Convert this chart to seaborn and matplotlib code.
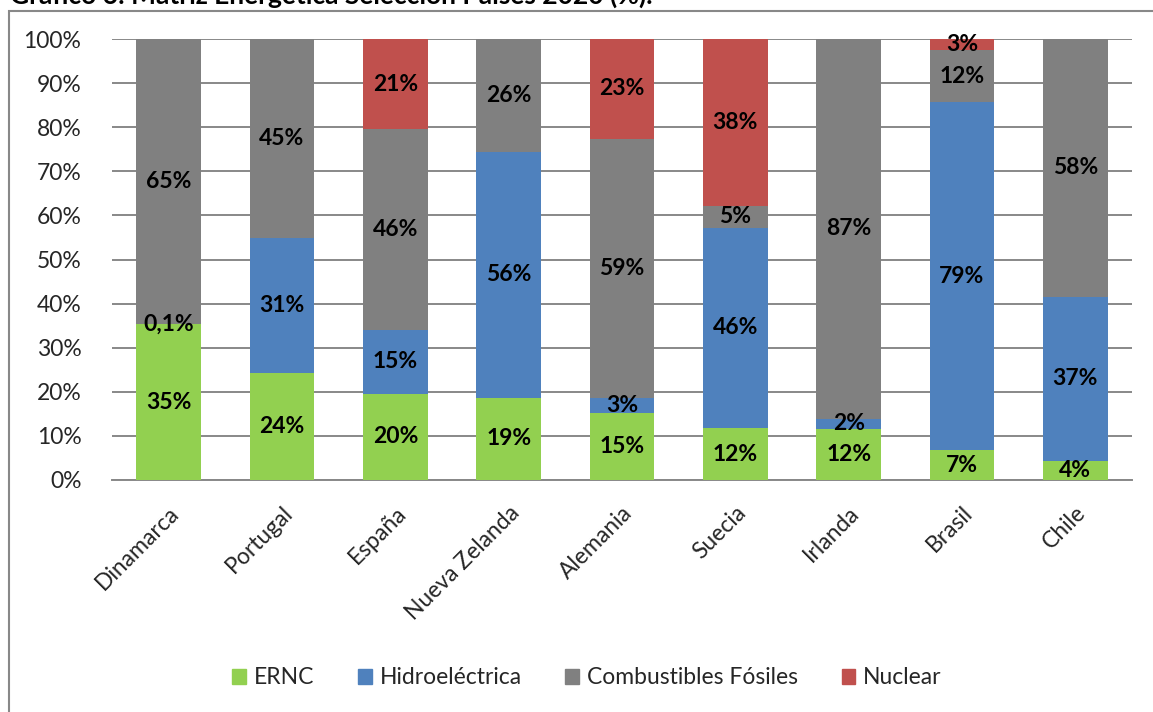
import numpy as np
import pandas as pd
import matplotlib
matplotlib.use("Agg")
import matplotlib.pyplot as plt
import matplotlib.patches as mpatches
import seaborn as sns

countries = ["Dinamarca", "Portugal", "España", "Nueva Zelanda", "Alemania",
             "Suecia", "Irlanda", "Brasil", "Chile"]
ernc = [35.4, 24.3, 19.6, 18.6, 15.2, 11.8, 11.6, 6.8, 4.4]
hidro = [0.1, 30.6, 14.6, 55.8, 3.4, 45.6, 2.4, 78.9, 37.2]
fosil = [64.6, 45.1, 45.7, 25.6, 58.8, 5.0, 86.5, 11.8, 58.4]
nuclear = [0.0, 0.0, 20.6, 0.0, 22.6, 37.9, 0.0, 2.5, 0.0]
series_names = ["ERNC", "Hidroeléctrica", "Combustibles Fósiles", "Nuclear"]
colors = ["#92D050", "#4F81BD", "#808080", "#C0504D"]
yticks = [0, 10, 20, 30, 40, 50, 60, 70, 80, 90, 100]
title = "Gráfico 6: Matriz Energética Selección Países 2020 (%)."

sns.set_theme(style="white")
plt.rcParams["font.family"] = ["Lato", "DejaVu Sans"]

FS = 16.5

raw = np.array([ernc, hidro, fosil, nuclear])
norm = raw / raw.sum(axis=0) * 100.0

fig = plt.figure(figsize=(11.53, 7.12), dpi=100)
ax = fig.add_axes([112 / 1153, 1 - 480 / 712, (1132 - 112) / 1153, (480 - 39) / 712])

bottom = np.zeros(len(countries))
for i, (name, col) in enumerate(zip(series_names, colors)):
    df = pd.DataFrame({"pais": countries, "valor": norm[i]})
    sns.barplot(data=df, x="pais", y="valor", order=countries, color=col,
                saturation=1, width=0.57, errorbar=None, bottom=bottom,
                ax=ax, linewidth=0, zorder=3, legend=False)
    for j in range(len(countries)):
        v = raw[i, j]
        if v <= 0:
            continue
        if v < 1:
            lab = f"{v:.1f}".replace(".", ",") + "%"
        else:
            lab = f"{int(v + 0.5)}%"
        ax.text(j, bottom[j] + norm[i, j] / 2, lab, ha="center", va="center",
                fontsize=FS, fontweight="bold", color="black", zorder=5)
    bottom = bottom + norm[i]

if ax.get_legend() is not None:
    ax.get_legend().remove()

ax.set_xlim(-0.5, len(countries) - 0.5)
ax.set_ylim(0, 100)
ax.set_yticks(yticks)
ax.set_yticklabels([f"{t}%" for t in yticks], fontsize=FS)
ax.yaxis.grid(True, color="#888888", linewidth=1.4, zorder=0)
ax.set_axisbelow(True)
for s in ["top", "right", "left"]:
    ax.spines[s].set_visible(False)
ax.spines["bottom"].set_color("#888888")
ax.spines["bottom"].set_linewidth(1.4)
ax.tick_params(axis="both", length=0)
ax.set_xlabel("")
ax.set_ylabel("")
ax.set_xticks(range(len(countries)))
ax.set_xticklabels(countries, rotation=45, ha="right", va="top",
                   rotation_mode="anchor", fontsize=FS)
ax.tick_params(axis="x", pad=16)
ax.tick_params(axis="y", pad=22)

handles = [mpatches.Patch(color=c, label=n) for c, n in zip(colors, series_names)]
fig.legend(handles=handles, loc="center", bbox_to_anchor=(587 / 1153, 1 - 678 / 712),
           ncol=4, frameon=False, fontsize=FS, handlelength=0.6, handleheight=0.6,
           handletextpad=0.35, columnspacing=1.9)

border = mpatches.Rectangle((8.5 / 1153, -0.2), 2, 1.2 - 10.5 / 712,
                            transform=fig.transFigure, fill=False,
                            edgecolor="#888888", linewidth=1.5, clip_on=False)
fig.patches.append(border)

fig.text(10 / 1153, 1 - 4 / 712, title, ha="left", va="baseline",
         fontsize=19, fontweight="bold", color="black")

fig.savefig("out.png", dpi=100)
